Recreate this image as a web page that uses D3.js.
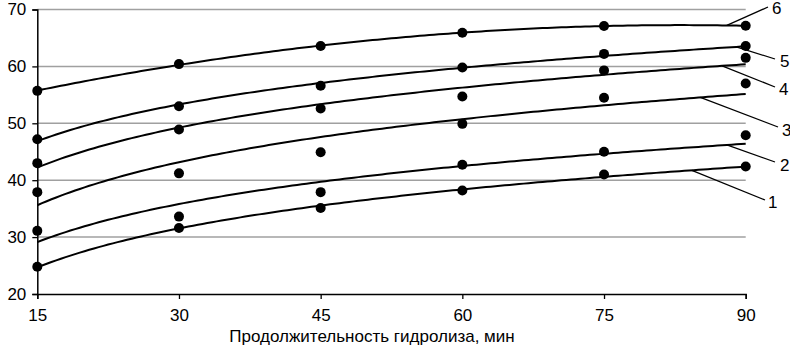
<!DOCTYPE html>
<html>
<head>
<meta charset="utf-8">
<script src="https://cdn.jsdelivr.net/npm/d3@7"></script>
<style>
  body { margin: 0; background: #fff; }
  svg { display: block; font-family: "Liberation Sans", Arial, sans-serif; }
</style>
</head>
<body>
<div id="chart"></div>
<script>
// данные
const minutes = [15, 30, 45, 60, 75, 90];
const s1 = [24.8, 31.6, 35.1, 38.2, 41.0, 42.4];
const s2 = [31.1, 33.6, 37.9, 42.7, 45.0, 47.9];
const s3 = [37.9, 41.2, 44.9, 49.9, 54.5, 57.0];
const s4 = [43.0, 48.9, 52.6, 54.7, 59.3, 61.5];
const s5 = [47.2, 53.0, 56.6, 59.8, 62.2, 63.6];
const s6 = [55.7, 60.4, 63.6, 65.9, 67.1, 67.15];
const seriesNames = ["1", "2", "3", "4", "5", "6"];
const trendTypes = ["log", "log", "log", "log", "log", "poly2"];
const yTicks = [20, 30, 40, 50, 60, 70];
const xTicks = [15, 30, 45, 60, 75, 90];
const xTitle = "Продолжительность гидролиза, мин";

const allSeries = [s1, s2, s3, s4, s5, s6];

// подписи 1..6: точка на кривой (мин) и конец выноски (px)
const labelLayout = [
  { at: 84.3, x2: 765, y2: 200, tx: 768, ty: 208 },
  { at: 88.0, x2: 775, y2: 162, tx: 780, ty: 171 },
  { at: 85.2, x2: 778, y2: 127, tx: 782, ty: 136 },
  { at: 87.5, x2: 775, y2: 87, tx: 779, ty: 95 },
  { at: 89.0, x2: 775, y2: 59, tx: 780, ty: 67 },
  { at: 88.0, x2: 768, y2: 7, tx: 772, ty: 14 }
];

const width = 790, height = 348;

const x = d3.scaleLinear().domain([15, 90]).range([37.3, 745.7]);
const y = d3.scaleLinear().domain([20, 70]).range([294, 9.5]);

// линия тренда (МНК) как в Excel
function fit(xs, ys, type) {
  const basis = type === "log"
    ? v => [1, Math.log(v)]
    : v => [1, v, v * v];
  const n = basis(xs[0]).length;
  const A = Array.from({ length: n }, () => new Array(n + 1).fill(0));
  xs.forEach((v, i) => {
    const b = basis(v);
    for (let r = 0; r < n; r++) {
      for (let c = 0; c < n; c++) A[r][c] += b[r] * b[c];
      A[r][n] += b[r] * ys[i];
    }
  });
  for (let i = 0; i < n; i++) {
    for (let k = i + 1; k < n; k++) {
      const f = A[k][i] / A[i][i];
      for (let c = i; c <= n; c++) A[k][c] -= f * A[i][c];
    }
  }
  const coef = new Array(n).fill(0);
  for (let i = n - 1; i >= 0; i--) {
    let s = A[i][n];
    for (let c = i + 1; c < n; c++) s -= A[i][c] * coef[c];
    coef[i] = s / A[i][i];
  }
  return v => d3.sum(basis(v), (b, i) => b * coef[i]);
}

const svg = d3.select("#chart")
  .append("svg")
  .attr("width", width)
  .attr("height", height);

// сетка
svg.append("g")
  .selectAll("line")
  .data(yTicks.filter(t => t > 20))
  .join("line")
  .attr("x1", x(15))
  .attr("x2", x(90))
  .attr("y1", d => y(d))
  .attr("y2", d => y(d))
  .attr("stroke", "#a0a0a0")
  .attr("stroke-width", 1.5);

// оси
const xAxis = svg.append("g")
  .attr("transform", `translate(0,${y(20)})`)
  .call(d3.axisBottom(x).tickValues(xTicks).tickSize(5).tickPadding(10));
const yAxis = svg.append("g")
  .attr("transform", `translate(${x(15)},0)`)
  .call(d3.axisLeft(y).tickValues(yTicks).tickSize(5).tickPadding(6));

[xAxis, yAxis].forEach(g => {
  g.select(".domain").attr("stroke", "#000").attr("stroke-width", 1.5);
  g.selectAll(".tick line").attr("stroke", "#000").attr("stroke-width", 1.3);
  g.selectAll(".tick text")
    .attr("fill", "#000")
    .style("font-size", "17px")
    .style("font-family", "'Liberation Sans', Arial, sans-serif");
});

svg.append("text")
  .attr("x", 372)
  .attr("y", 342)
  .attr("text-anchor", "middle")
  .style("font-size", "17px")
  .text(xTitle);

// кривые и точки
const line = d3.line()
  .x(d => x(d[0]))
  .y(d => y(d[1]));

const samples = d3.range(15, 90.001, 0.5);

allSeries.forEach((vals, i) => {
  const f = fit(minutes, vals, trendTypes[i]);

  svg.append("path")
    .datum(samples.map(v => [v, f(v)]))
    .attr("d", line)
    .attr("fill", "none")
    .attr("stroke", "#000")
    .attr("stroke-width", 2);

  svg.append("g")
    .selectAll("circle")
    .data(minutes.map((m, j) => [m, vals[j]]))
    .join("circle")
    .attr("cx", d => x(d[0]))
    .attr("cy", d => y(d[1]))
    .attr("r", 5)
    .attr("fill", "#000");

  const lb = labelLayout[i];
  svg.append("line")
    .attr("x1", x(lb.at))
    .attr("y1", y(f(lb.at)))
    .attr("x2", lb.x2)
    .attr("y2", lb.y2)
    .attr("stroke", "#000")
    .attr("stroke-width", 1.3);

  svg.append("text")
    .attr("x", lb.tx)
    .attr("y", lb.ty)
    .style("font-size", "17px")
    .text(seriesNames[i]);
});
</script>
</body>
</html>
